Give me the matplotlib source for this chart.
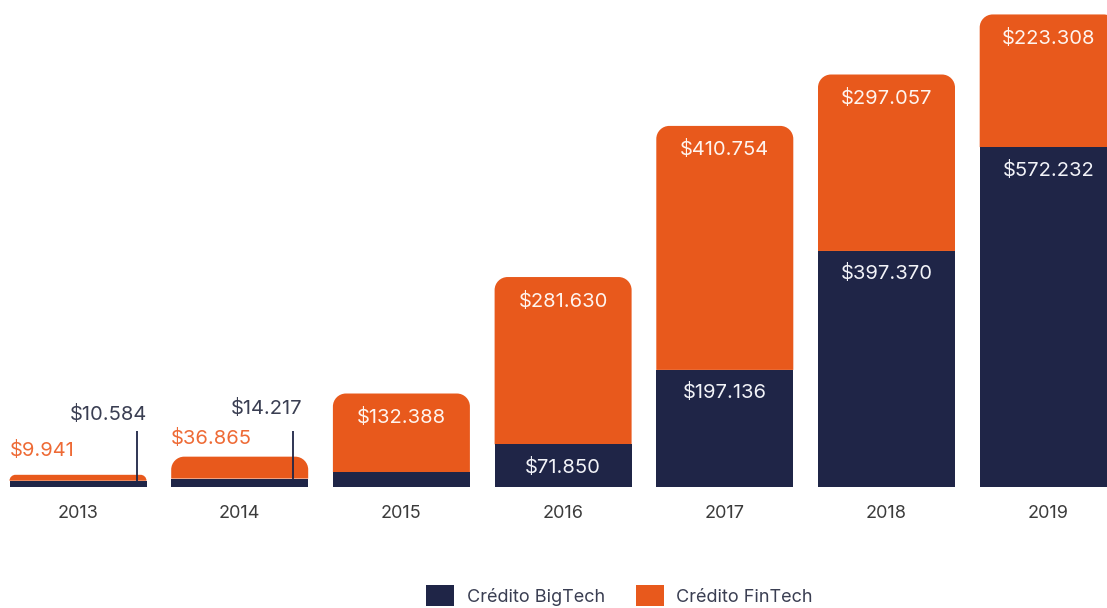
import matplotlib
matplotlib.use('Agg')
import matplotlib.pyplot as plt
from matplotlib.path import Path
from matplotlib.patches import PathPatch, Patch
from matplotlib.transforms import ScaledTranslation

years = ['2013', '2014', '2015', '2016', '2017', '2018', '2019']
bigtech = [10584, 14217, 25000, 71850, 197136, 397370, 572232]
fintech = [9941, 36865, 132388, 281630, 410754, 297057, 223308]
bigtech_shown = [True, True, False, True, True, True, True]
inside = [False, False, True, True, True, True, True]

NAVY = '#1F2547'
ORANGE = '#E8591C'
TEXT = '#3a3e52'

def fmt(v):
    return '$' + f'{v:,}'.replace(',', '.')

W, H, DPI = 11.07, 6.08, 100
fig = plt.figure(figsize=(W, H), dpi=DPI)
ax = fig.add_axes([0, 121 / 608, 1, 487 / 608])
px_x = 161.7           # pixels per category
px_per_unit = 0.000594 # pixels per value unit
ax.set_xlim(-78 / px_x, (1107 - 78) / px_x)
ax.set_ylim(0, 487 / px_per_unit)
for s in ax.spines.values():
    s.set_visible(False)
ax.set_yticks([])
x = list(range(len(years)))
bw = 137 / px_x

b1 = ax.bar(x, bigtech, width=bw, color=NAVY, zorder=3, linewidth=0)
b2 = ax.bar(x, fintech, width=bw, bottom=bigtech, color=ORANGE, zorder=2, linewidth=0)

# replace orange rectangles by rounded-top paths
K = 0.5523
for rect in b2:
    x0, y0 = rect.get_x(), rect.get_y()
    w, h = rect.get_width(), rect.get_height()
    h_px = h * px_per_unit
    r_px = min(13, max(h_px, 4))
    rx = r_px / px_x
    ry = r_px / px_per_unit
    x1, y1 = x0 + w, y0 + h
    yb = y0
    verts = [
        (x0, yb), (x1, yb), (x1, y1 - ry),
        (x1, y1 - ry + K * ry), (x1 - rx + K * rx, y1), (x1 - rx, y1),
        (x0 + rx, y1),
        (x0 + rx - K * rx, y1), (x0, y1 - ry + K * ry), (x0, y1 - ry),
        (x0, yb),
    ]
    codes = [Path.MOVETO, Path.LINETO, Path.LINETO,
             Path.CURVE4, Path.CURVE4, Path.CURVE4,
             Path.LINETO,
             Path.CURVE4, Path.CURVE4, Path.CURVE4,
             Path.CLOSEPOLY]
    rect.set_visible(False)
    ax.add_patch(PathPatch(Path(verts, codes), facecolor=ORANGE, edgecolor='none', zorder=2))

def off(dx, dy):
    return ax.transData + ScaledTranslation(dx / DPI, dy / DPI, fig.dpi_scale_trans)

FS = 14.5
for i in x:
    total = bigtech[i] + fintech[i]
    if inside[i]:
        ax.text(i, total, fmt(fintech[i]), transform=off(0, -24), ha='center', va='center',
                color='#FFF4EE', fontsize=FS, family='Inter', zorder=5)
        if bigtech_shown[i]:
            ax.text(i, bigtech[i], fmt(bigtech[i]), transform=off(0, -23), ha='center', va='center',
                    color='#F2F3F8', fontsize=FS, family='Inter', zorder=5)

# outside labels for 2013 and 2014
outer = {0: dict(o_y=36, n_y=72, n_dx=1, line_dx=-10),
         1: dict(o_y=49, n_y=79, n_dx=-6, line_dx=-15)}
for i, st in outer.items():
    left = i - bw / 2
    right = i + bw / 2
    ax.text(left, 0, fmt(fintech[i]), transform=off(0, st['o_y']), ha='left', va='center',
            color='#EE6A35', fontsize=FS, family='Inter', zorder=5)
    ax.text(right, 0, fmt(bigtech[i]), transform=off(st['n_dx'], st['n_y']), ha='right', va='center',
            color=TEXT, fontsize=FS, family='Inter', zorder=5)
    tr = ax.transData + ScaledTranslation(st['line_dx'] / DPI, 0, fig.dpi_scale_trans)
    ax.plot([right, right], [0, 56 / px_per_unit], transform=tr, color=NAVY, lw=1.3, zorder=6,
            solid_capstyle='butt')

ax.set_xticks(x)
ax.set_xticklabels(years, fontsize=13, color='#3b3b3b', family='Inter')
ax.tick_params(axis='x', length=0, pad=13)

handles = [Patch(facecolor=NAVY, label='Crédito BigTech'),
           Patch(facecolor=ORANGE, label='Crédito FinTech')]
fig.legend(handles=handles, loc='center', bbox_to_anchor=(0.5596, 0.02), ncol=2, frameon=False,
           prop={'family': 'Inter', 'size': 13}, labelcolor=TEXT, handlelength=1.55,
           handleheight=1.4, handletextpad=0.7, columnspacing=1.7, borderpad=0)

fig.savefig('out.png', dpi=DPI)
